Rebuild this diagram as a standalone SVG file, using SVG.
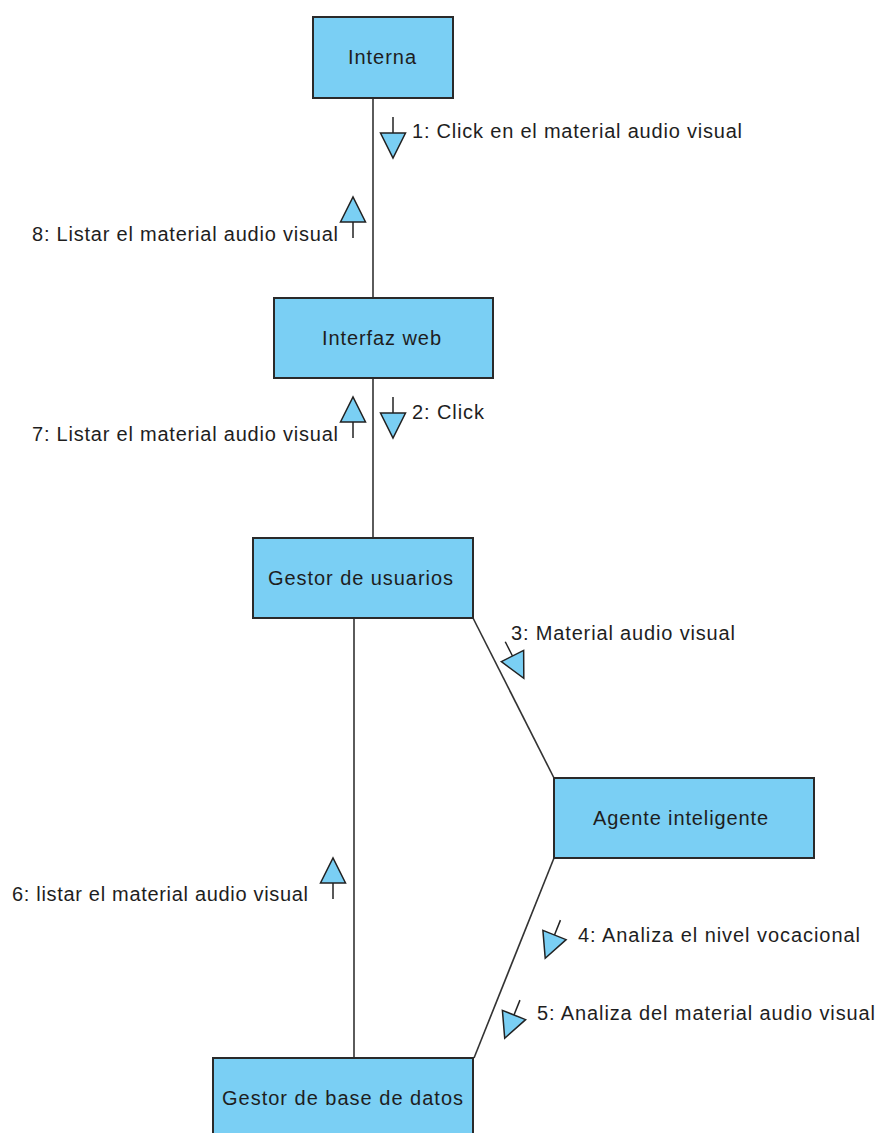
<svg xmlns="http://www.w3.org/2000/svg" width="878" height="1133" viewBox="0 0 878 1133">
<defs>
<style>
.node rect{fill:#7acff4;stroke:#2a2a2a;stroke-width:2}
text{font-family:"Liberation Sans",Arial,sans-serif;font-size:20px;fill:#1e1e1e}
.conn line{stroke:#333;stroke-width:1.6}
</style>
<g id="arrowDown">
<line x1="0" y1="-16" x2="0" y2="0" stroke="#222" stroke-width="1.5"/>
<path d="M-12.5,0 L12.5,0 L0,25 Z" fill="#7acff4" stroke="#222" stroke-width="1.5"/>
</g>
</defs>
<rect width="878" height="1133" fill="#fff"/>
<g id="connectors" class="conn">
<line x1="373" y1="98" x2="373" y2="298"/>
<line x1="373" y1="378" x2="373" y2="538"/>
<line x1="473" y1="618" x2="554" y2="778"/>
<line x1="554" y1="858" x2="474" y2="1058"/>
<line x1="354" y1="618" x2="354" y2="1058"/>
</g>
<g id="messages" class="msg">
<g id="m1"><use href="#arrowDown" transform="translate(393,133)"/><text x="412" y="138" textLength="330" lengthAdjust="spacing">1: Click en el material audio visual</text></g>
<g id="m8"><use href="#arrowDown" transform="translate(353,222) rotate(180)"/><text x="32" y="241" textLength="306" lengthAdjust="spacing">8: Listar el material audio visual</text></g>
<g id="m2"><use href="#arrowDown" transform="translate(393,413)"/><text x="412" y="419" textLength="72" lengthAdjust="spacing">2: Click</text></g>
<g id="m7"><use href="#arrowDown" transform="translate(353,422) rotate(180)"/><text x="32" y="441" textLength="306" lengthAdjust="spacing">7: Listar el material audio visual</text></g>
<g id="m3"><use href="#arrowDown" transform="translate(512.5,656) rotate(-26.9)"/><text x="511" y="640" textLength="224" lengthAdjust="spacing">3: Material audio visual</text></g>
<g id="m4"><use href="#arrowDown" transform="translate(554.5,935) rotate(21.8)"/><text x="578" y="942" textLength="282" lengthAdjust="spacing">4: Analiza el nivel vocacional</text></g>
<g id="m5"><use href="#arrowDown" transform="translate(514,1015) rotate(21.8)"/><text x="537" y="1020" textLength="338" lengthAdjust="spacing">5: Analiza del material audio visual</text></g>
<g id="m6"><use href="#arrowDown" transform="translate(333,883) rotate(180)"/><text x="12" y="901" textLength="296" lengthAdjust="spacing">6: listar el material audio visual</text></g>
</g>
<g id="interna" class="node"><rect x="313" y="17" width="140" height="81"/><text x="348" y="64" textLength="68" lengthAdjust="spacing">Interna</text></g>
<g id="interfaz" class="node"><rect x="274" y="298" width="219" height="80"/><text x="322" y="345" textLength="119" lengthAdjust="spacing">Interfaz web</text></g>
<g id="gestorUsuarios" class="node"><rect x="253" y="538" width="220" height="80"/><text x="268" y="585" textLength="185" lengthAdjust="spacing">Gestor de usuarios</text></g>
<g id="agente" class="node"><rect x="554" y="778" width="260" height="80"/><text x="593" y="825" textLength="175" lengthAdjust="spacing">Agente inteligente</text></g>
<g id="gestorBD" class="node"><rect x="213" y="1058" width="260" height="82"/><text x="222" y="1105" textLength="241" lengthAdjust="spacing">Gestor de base de datos</text></g>
</svg>
